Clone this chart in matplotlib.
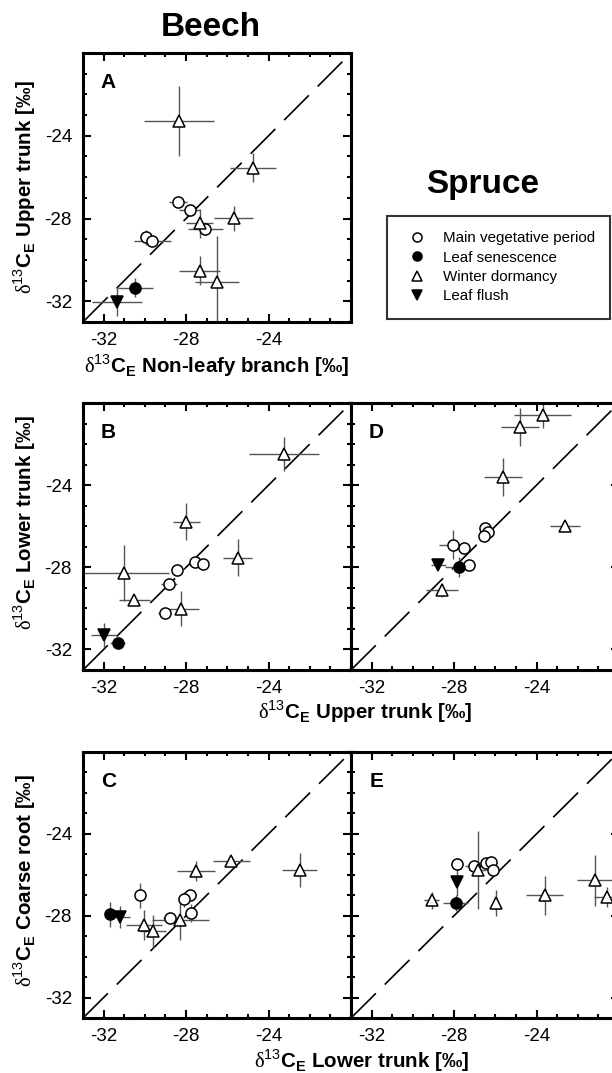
import matplotlib
matplotlib.use("Agg")
import matplotlib.pyplot as plt
from matplotlib.ticker import FixedLocator, MultipleLocator
from matplotlib.lines import Line2D

plt.rcParams["font.family"] = ["Liberation Sans", "DejaVu Sans"]
plt.rcParams["mathtext.fontset"] = "custom"
plt.rcParams["mathtext.rm"] = "Liberation Serif"
plt.rcParams["mathtext.bf"] = "Liberation Sans:bold"
plt.rcParams["mathtext.sf"] = "Liberation Sans"

# ---- data: delta13C of efflux (mean, error) per sampling date ----
# kinds: veg = main vegetative period, sen = leaf senescence,
#        win = winter dormancy, flush = leaf flush

# A: beech, non-leafy branch vs upper trunk
A_x = [-28.36, -24.76, -28.39, -27.82, -27.34, -27.08, -25.69, -29.93, -29.65, -27.34, -26.50, -30.46, -31.35]
A_y = [-23.30, -25.54, -27.22, -27.59, -28.23, -28.52, -27.99, -28.91, -29.07, -30.53, -31.06, -31.34, -32.03]
A_xerr = [1.70, 1.13, 0.45, 0.50, 0.65, 0.85, 0.95, 0.30, 0.90, 1.00, 1.07, 0.85, 1.20]
A_yerr = [1.70, 0.70, 0.15, 0.15, 0.70, 0.20, 0.60, 0.35, 0.20, 0.70, 2.20, 0.45, 0.70]
A_kind = ["win", "win", "veg", "veg", "win", "veg", "win", "veg", "veg", "win", "win", "sen", "flush"]

# B: beech, upper trunk vs lower trunk
B_x = [-23.27, -27.99, -25.50, -27.55, -27.18, -28.44, -31.03, -28.84, -30.51, -28.23, -29.04, -32.00, -31.32]
B_y = [-22.50, -25.79, -27.54, -27.73, -27.83, -28.11, -28.27, -28.82, -29.60, -30.02, -30.24, -31.30, -31.67]
B_xerr = [1.70, 0.66, 0.70, 0.20, 0.20, 0.25, 2.20, 0.40, 0.75, 0.85, 0.30, 0.60, 0.35]
B_yerr = [0.83, 0.90, 0.90, 0.10, 0.10, 0.10, 1.35, 0.10, 0.15, 0.85, 0.10, 0.60, 0.10]
B_kind = ["win", "win", "win", "veg", "veg", "veg", "win", "veg", "win", "win", "veg", "flush", "sen"]

# C: beech, lower trunk vs coarse root
C_x = [-22.49, -25.81, -27.52, -30.22, -27.83, -28.12, -27.75, -28.80, -28.28, -30.06, -29.60, -31.67, -31.22]
C_y = [-25.75, -25.33, -25.82, -27.01, -27.01, -27.20, -27.87, -28.10, -28.23, -28.44, -28.77, -27.93, -28.07]
C_xerr = [0.85, 0.89, 0.90, 0.10, 0.30, 0.15, 0.15, 0.30, 1.37, 0.87, 0.65, 0.10, 0.50]
C_yerr = [0.83, 0.25, 0.50, 0.63, 0.10, 0.37, 0.45, 0.15, 0.95, 0.73, 0.80, 0.60, 0.55]
C_kind = ["win", "win", "win", "veg", "veg", "veg", "veg", "veg", "win", "win", "win", "sen", "flush"]

# D: spruce, upper trunk vs lower trunk
D_x = [-23.70, -24.79, -25.64, -22.62, -26.50, -26.37, -26.55, -28.04, -27.52, -28.76, -27.75, -27.29, -28.57]
D_y = [-20.60, -21.17, -23.60, -26.00, -26.11, -26.27, -26.48, -26.89, -27.05, -27.89, -27.98, -27.89, -29.11]
D_xerr = [1.37, 0.93, 0.93, 0.75, 0.25, 0.20, 0.20, 0.70, 0.20, 0.35, 0.70, 0.30, 0.78]
D_yerr = [0.60, 0.93, 0.92, 0.25, 0.10, 0.10, 0.10, 0.70, 0.10, 0.10, 0.50, 0.10, 0.35]
D_kind = ["win", "win", "win", "win", "veg", "veg", "veg", "veg", "veg", "flush", "sen", "veg", "win"]

# E: spruce, lower trunk vs coarse root
E_x = [-27.87, -27.84, -27.92, -29.09, -27.02, -26.86, -26.47, -26.23, -26.13, -25.98, -23.61, -21.16, -20.60]
E_y = [-25.49, -26.35, -27.38, -27.25, -25.57, -25.75, -25.43, -25.38, -25.79, -27.38, -27.01, -26.27, -27.09]
E_xerr = [0.30, 0.10, 0.60, 0.35, 0.45, 0.40, 0.20, 0.20, 0.20, 0.15, 0.90, 0.90, 0.60]
E_yerr = [0.10, 0.70, 0.40, 0.40, 0.10, 1.90, 0.10, 0.20, 0.10, 0.65, 0.95, 1.26, 0.50]
E_kind = ["veg", "flush", "sen", "win", "veg", "win", "veg", "veg", "veg", "win", "win", "win", "win"]

kind_order = ["veg", "sen", "win", "flush"]
kind_names = ["Main vegetative period", "Leaf senescence", "Winter dormancy", "Leaf flush"]
axis_lim = [-33, -20]
major_ticks = [-32, -28, -24]

# ---- styling ----
STYLE = {
    "veg": dict(marker="o", mfc="white", mec="black"),
    "sen": dict(marker="o", mfc="black", mec="black"),
    "win": dict(marker="^", mfc="white", mec="black"),
    "flush": dict(marker="v", mfc="black", mec="black"),
}
MS = 8
MEW = 1.1

W, H = 612, 1073
fig = plt.figure(figsize=(W / 100, H / 100), dpi=100)


def px_rect(left, top, right, bottom):
    return [left / W, 1 - bottom / H, (right - left) / W, (bottom - top) / H]


def fx(px):
    return px / W


def fy(py):
    return 1 - py / H


def iso_label(part):
    return r"$\mathrm{\delta}^{\mathsf{13}}\mathbf{C}_{\mathbf{E}}$ " + part + " [‰]"


def draw_panel(ax, xs, ys, xerrs, yerrs, kinds, letter, show_y=True):
    ax.set_xlim(axis_lim)
    ax.set_ylim(axis_lim)
    ax.plot(axis_lim, axis_lim, color="black", lw=1.2,
            linestyle=(0, (21, 7.5)), zorder=1)
    for k in kind_order:
        idx = [i for i, kk in enumerate(kinds) if kk == k]
        if not idx:
            continue
        ax.errorbar([xs[i] for i in idx], [ys[i] for i in idx],
                    xerr=[xerrs[i] for i in idx], yerr=[yerrs[i] for i in idx],
                    fmt="none", ecolor="#555555", elinewidth=1.0, capsize=0, zorder=2)
        ax.plot([xs[i] for i in idx], [ys[i] for i in idx], linestyle="none",
                ms=MS, mew=MEW, zorder=3, **STYLE[k])
    ax.xaxis.set_major_locator(FixedLocator(major_ticks))
    ax.yaxis.set_major_locator(FixedLocator(major_ticks))
    ax.xaxis.set_minor_locator(MultipleLocator(1))
    ax.yaxis.set_minor_locator(MultipleLocator(1))
    ax.tick_params(which="both", direction="in", top=True, right=True,
                   width=1.5, labelsize=13.5)
    ax.tick_params(which="major", length=5.5)
    ax.tick_params(which="minor", length=3)
    ax.tick_params(axis="x", pad=7.5)
    ax.tick_params(axis="y", pad=8)
    ax.set_xticklabels([str(t) for t in major_ticks])
    if show_y:
        ax.set_yticklabels([str(t) for t in major_ticks])
    else:
        ax.set_yticklabels([])
    for s in ax.spines.values():
        s.set_linewidth(2.2)
    ax.text(0.095, 0.89, letter, transform=ax.transAxes, ha="center", va="center",
            fontsize=15, fontweight="bold")


axA = fig.add_axes(px_rect(83, 53, 351, 322))
axB = fig.add_axes(px_rect(83, 403, 351, 670))
axD = fig.add_axes(px_rect(351, 403, 619, 670))
axC = fig.add_axes(px_rect(83, 752, 351, 1018))
axE = fig.add_axes(px_rect(351, 752, 619, 1018))

draw_panel(axA, A_x, A_y, A_xerr, A_yerr, A_kind, "A")
draw_panel(axB, B_x, B_y, B_xerr, B_yerr, B_kind, "B")
draw_panel(axD, D_x, D_y, D_xerr, D_yerr, D_kind, "D", show_y=False)
draw_panel(axC, C_x, C_y, C_xerr, C_yerr, C_kind, "C")
draw_panel(axE, E_x, E_y, E_xerr, E_yerr, E_kind, "E", show_y=False)

# column titles
fig.text(fx(211), fy(27), "Beech", ha="center", va="center", fontsize=24, fontweight="bold")
fig.text(fx(483), fy(185), "Spruce", ha="center", va="center", fontsize=24, fontweight="bold")

# axis labels
lab = dict(fontsize=14.8, fontweight="bold")
fig.text(fx(217), fy(373), iso_label("Non-leafy branch"), ha="center", va="baseline", **lab)
fig.text(fx(365), fy(719), iso_label("Upper trunk"), ha="center", va="baseline", **lab)
fig.text(fx(362), fy(1068), iso_label("Lower trunk"), ha="center", va="baseline", **lab)
fig.text(fx(25), fy(187), iso_label("Upper trunk"), rotation=90, ha="center", va="center", **lab)
fig.text(fx(25), fy(522), iso_label("Lower trunk"), rotation=90, ha="center", va="center", **lab)
fig.text(fx(25), fy(880), iso_label("Coarse root"), rotation=90, ha="center", va="center", **lab)

# legend
handles = [Line2D([], [], linestyle="none", ms=6.5, mew=1.1, **STYLE[k]) for k in kind_order]
leg = fig.legend(handles, kind_names, loc="upper left",
                 bbox_to_anchor=(fx(387), fy(216)), bbox_transform=fig.transFigure,
                 fontsize=10.9, frameon=True, fancybox=False, edgecolor="black",
                 handlelength=2.0, handletextpad=0.7, borderpad=1.0,
                 labelspacing=0.36, borderaxespad=0)
leg.get_frame().set_linewidth(1.5)

fig.savefig("out.png", dpi=100)
